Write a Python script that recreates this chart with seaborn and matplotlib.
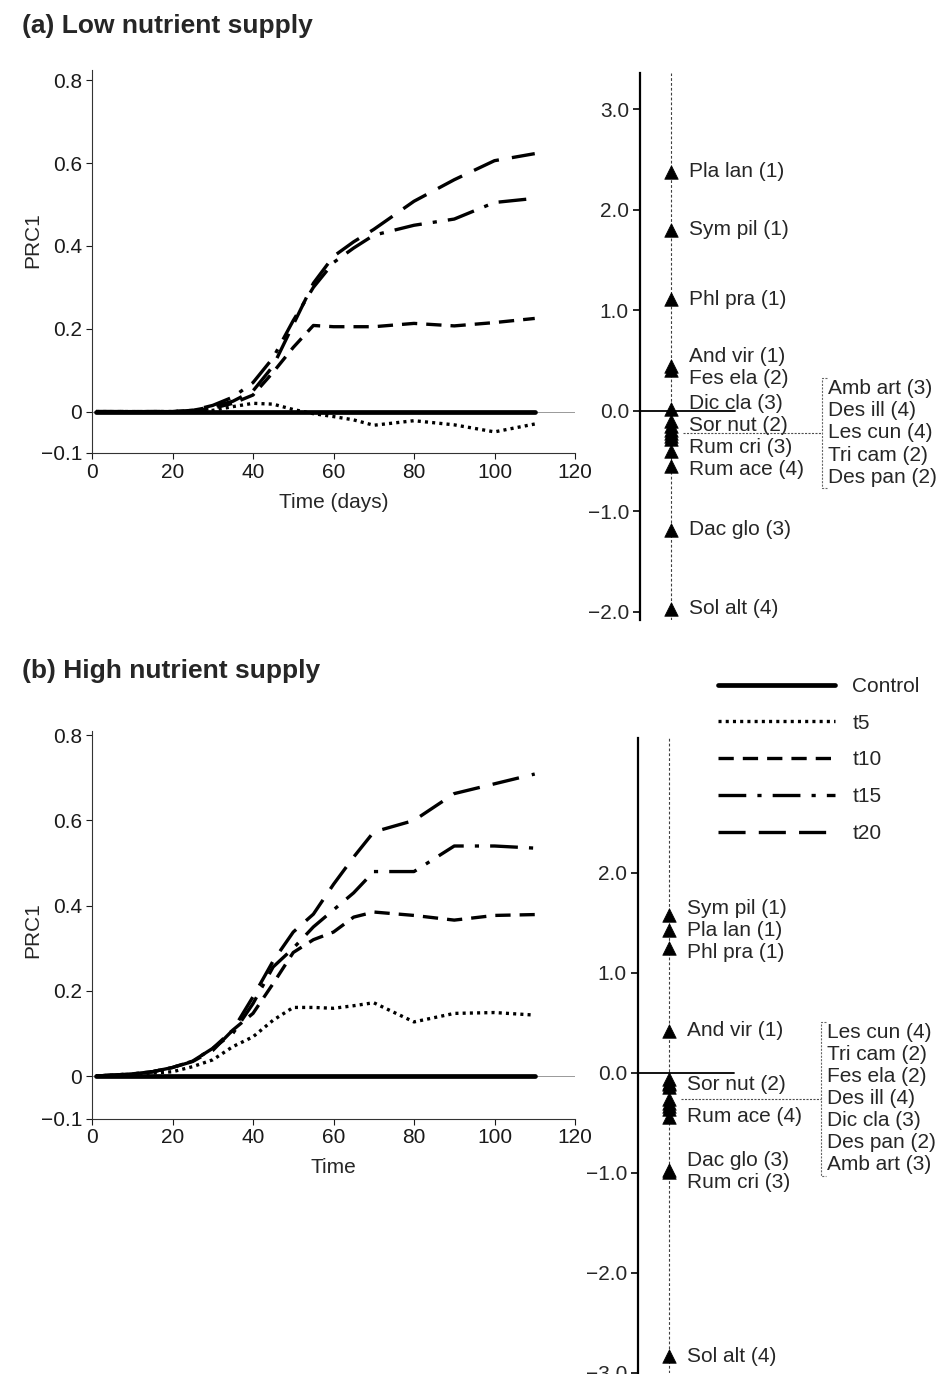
import numpy as np
import matplotlib
matplotlib.use("Agg")
import matplotlib.pyplot as plt
import seaborn as sns
from matplotlib.ticker import FuncFormatter

sns.set_style("ticks")
plt.rcParams["font.family"] = ["Liberation Sans", "DejaVu Sans"]
plt.rcParams["lines.scale_dashes"] = False

# ---- data ----
days = [1, 5, 10, 15, 20, 25, 30, 35, 40, 45, 50, 55, 60, 65, 70, 80, 90, 100, 110]
treatments = ["Control", "t5", "t10", "t15", "t20"]

low_control = [0, 0, 0, 0, 0, 0, 0, 0, 0, 0, 0, 0, 0, 0, 0, 0, 0, 0, 0]
low_t5 = [0, 0, 0, 0, 0, 0, 0.003, 0.012, 0.02, 0.018, 0.005, -0.005, -0.012,
          -0.02, -0.033, -0.022, -0.032, -0.049, -0.03]
low_t10 = [0, 0, 0, 0, 0, 0.002, 0.008, 0.02, 0.04, 0.095, 0.155, 0.208, 0.205,
           0.205, 0.205, 0.213, 0.207, 0.215, 0.225]
low_t15 = [0, 0, 0, 0, 0, 0.003, 0.015, 0.035, 0.07, 0.13, 0.22, 0.30, 0.36,
           0.395, 0.426, 0.45, 0.465, 0.505, 0.515]
low_t20 = [0, 0, 0, 0, 0, 0.003, 0.012, 0.025, 0.05, 0.11, 0.21, 0.31, 0.375,
           0.41, 0.44, 0.508, 0.56, 0.606, 0.623]

high_control = [0, 0, 0, 0, 0, 0, 0, 0, 0, 0, 0, 0, 0, 0, 0, 0, 0, 0, 0]
high_t5 = [0, 0.002, 0.004, 0.007, 0.01, 0.022, 0.038, 0.069, 0.092, 0.131, 0.161,
           0.161, 0.159, 0.165, 0.172, 0.127, 0.147, 0.149, 0.143]
high_t10 = [0, 0.002, 0.005, 0.01, 0.02, 0.035, 0.065, 0.108, 0.147, 0.217, 0.29,
            0.32, 0.338, 0.373, 0.385, 0.377, 0.366, 0.377, 0.379]
high_t15 = [0, 0.002, 0.005, 0.01, 0.02, 0.035, 0.065, 0.10, 0.17, 0.256, 0.30,
            0.35, 0.39, 0.43, 0.48, 0.48, 0.54, 0.54, 0.535]
high_t20 = [0, 0.002, 0.005, 0.01, 0.02, 0.034, 0.06, 0.108, 0.186, 0.27, 0.338,
            0.38, 0.45, 0.514, 0.573, 0.60, 0.663, 0.686, 0.709]

low_species = ["Pla lan (1)", "Sym pil (1)", "Phl pra (1)", "And vir (1)", "Fes ela (2)",
               "Dic cla (3)", "Sor nut (2)", "Rum cri (3)", "Rum ace (4)", "Dac glo (3)",
               "Sol alt (4)"]
low_scores = [2.38, 1.80, 1.11, 0.45, 0.41, 0.02, -0.10, -0.40, -0.55, -1.18, -1.97]
low_group = ["Amb art (3)", "Des ill (4)", "Les cun (4)", "Tri cam (2)", "Des pan (2)"]
low_group_scores = [-0.15, -0.19, -0.22, -0.25, -0.28]

high_species = ["Sym pil (1)", "Pla lan (1)", "Phl pra (1)", "And vir (1)", "Sor nut (2)",
                "Rum ace (4)", "Dac glo (3)", "Rum cri (3)", "Sol alt (4)"]
high_scores = [1.58, 1.43, 1.25, 0.42, -0.11, -0.44, -0.97, -0.99, -2.83]
high_group = ["Les cun (4)", "Tri cam (2)", "Fes ela (2)", "Des ill (4)", "Dic cla (3)",
              "Des pan (2)", "Amb art (3)"]
high_group_scores = [-0.06, -0.10, -0.14, -0.26, -0.30, -0.33, -0.36]

# ---- styles ----
line_styles = {
    "Control": "-",
    "t5": (0, (2.2, 3.0)),
    "t10": (0, (11, 6.5)),
    "t15": (0, (20, 8, 3, 8)),
    "t20": (0, (19.5, 9.5)),
}
line_widths = {"Control": 3.4, "t5": 2.4, "t10": 2.4, "t15": 2.4, "t20": 2.4}
FS = 15
GAP = 0.22


def spread_labels(values, gap):
    # keep species labels at least `gap` apart, centred on their clusters
    vals = np.asarray(values, float)
    order = list(np.argsort(-vals))
    clusters = [[i] for i in order]

    def place(cl):
        c = vals[cl].mean()
        n = len(cl)
        return [c + gap * ((n - 1) / 2 - k) for k in range(n)]

    merged = True
    while merged:
        merged = False
        for j in range(len(clusters) - 1):
            if place(clusters[j])[-1] - place(clusters[j + 1])[0] < gap - 1e-9:
                clusters[j] = clusters[j] + clusters[j + 1]
                del clusters[j + 1]
                merged = True
                break
    pos = np.empty_like(vals)
    for cl in clusters:
        for i, p in zip(cl, place(cl)):
            pos[i] = p
    return pos


def fmt_left(v, _):
    if abs(v) < 1e-9:
        return "0"
    return f"{v:.1f}".replace("-", "\u2212")


def fmt_right(v, _):
    return f"{v:.1f}".replace("-", "\u2212")


def draw_prc(ax, series, ylim, xlabel):
    ax.axhline(0, color="0.6", lw=0.7, zorder=1)
    for name, vals in zip(treatments, series):
        sns.lineplot(x=days, y=vals, ax=ax, color="black", lw=line_widths[name],
                     linestyle=line_styles[name], label=name, zorder=3)
    if ax.get_legend() is not None:
        ax.get_legend().remove()
    ax.set_xlim(0, 120)
    ax.set_ylim(*ylim)
    ax.set_xticks([0, 20, 40, 60, 80, 100, 120])
    ax.set_yticks([-0.1, 0, 0.2, 0.4, 0.6, 0.8])
    ax.yaxis.set_major_formatter(FuncFormatter(fmt_left))
    ax.set_xlabel(xlabel, fontsize=FS, labelpad=8)
    ax.set_ylabel("PRC1", fontsize=FS)
    sns.despine(ax=ax)
    for s in ("left", "bottom"):
        ax.spines[s].set_linewidth(0.8)
        ax.spines[s].set_color("0.2")
    ax.tick_params(direction="out", length=4, width=0.8, labelsize=FS, pad=3, colors="0.1")


def draw_species(ax, names, scores, group, group_scores, ylim, yticks):
    ax.set_xlim(0, 1)
    ax.set_ylim(*ylim)
    trans = ax.get_yaxis_transform()
    x_tri = 0.103
    ax.axvline(x_tri, color="0.25", lw=0.8, linestyle=(0, (2, 1.5)), zorder=1)
    ax.plot([0, 0.316], [0, 0], transform=trans, color="black", lw=1.3, zorder=2)
    all_scores = list(scores) + list(group_scores)
    sns.scatterplot(x=[x_tri] * len(all_scores), y=all_scores, ax=ax, marker="^",
                    s=95, color="black", edgecolor="black", linewidth=0.5, zorder=4)
    for name, yl in zip(names, spread_labels(scores, GAP)):
        ax.text(0.163, yl, name, transform=trans, va="center", ha="left", fontsize=FS)
    # grouped species, linked by a dotted bracket
    m = float(np.median(group_scores))
    n = len(group)
    top, bot = m + n * GAP / 2, m - n * GAP / 2
    ax.plot([0.143, 0.605], [m, m], transform=trans, color="0.3", lw=0.8,
            linestyle=(0, (1.5, 1)), clip_on=False)
    ax.plot([0.622, 0.605, 0.605, 0.622], [top, top, bot, bot], transform=trans,
            color="0.4", lw=0.8, linestyle=(0, (1.5, 1)), clip_on=False)
    for k, name in enumerate(group):
        ax.text(0.625, m + GAP * ((n - 1) / 2 - k), name, transform=trans,
                va="center", ha="left", fontsize=FS)
    ax.set_yticks(yticks)
    ax.yaxis.set_major_formatter(FuncFormatter(fmt_right))
    ax.set_xticks([])
    sns.despine(ax=ax, bottom=True)
    ax.spines["left"].set_linewidth(1.6)
    ax.spines["left"].set_color("black")
    ax.tick_params(axis="y", direction="out", length=5, width=1.4, labelsize=FS, pad=3)


W, H = 941, 1374
fig = plt.figure(figsize=(W / 100, H / 100), dpi=100)


def px_axes(x0, y_top, x1, y_bot):
    return fig.add_axes([x0 / W, 1 - y_bot / H, (x1 - x0) / W, (y_bot - y_top) / H])


ax_a = px_axes(92, 70, 575, 453)
ax_a_sp = px_axes(640, 73, 941, 620)
ax_b = px_axes(92, 731, 575, 1118.6)
ax_b_sp = px_axes(638, 738, 941, 1373)

draw_prc(ax_a, [low_control, low_t5, low_t10, low_t15, low_t20], (-0.1, 0.825), "Time (days)")
draw_prc(ax_b, [high_control, high_t5, high_t10, high_t15, high_t20], (-0.1, 0.81), "Time")
ax_a.yaxis.set_label_coords(-0.1035, 0.556)
ax_b.yaxis.set_label_coords(-0.1035, 0.487)

draw_species(ax_a_sp, low_species, low_scores, low_group, low_group_scores,
             (-2.08, 3.36), [-2, -1, 0, 1, 2, 3])
draw_species(ax_b_sp, high_species, high_scores, high_group, high_group_scores,
             (-3.0, 3.35), [-3, -2, -1, 0, 1, 2])

fig.text(22 / W, 1 - 26 / H, "(a) Low nutrient supply", fontsize=19,
         fontweight="bold", va="center", ha="left")
fig.text(22 / W, 1 - 671 / H, "(b) High nutrient supply", fontsize=19,
         fontweight="bold", va="center", ha="left")

handles, labels = ax_b.get_legend_handles_labels()
fig.legend(handles, labels, loc="upper left", bbox_to_anchor=(718 / W, 1 - 677 / H),
           frameon=False, fontsize=FS, handlelength=5.6, handletextpad=0.85,
           labelspacing=0.85, borderpad=0, borderaxespad=0)

fig.savefig("out.png", dpi=100)
